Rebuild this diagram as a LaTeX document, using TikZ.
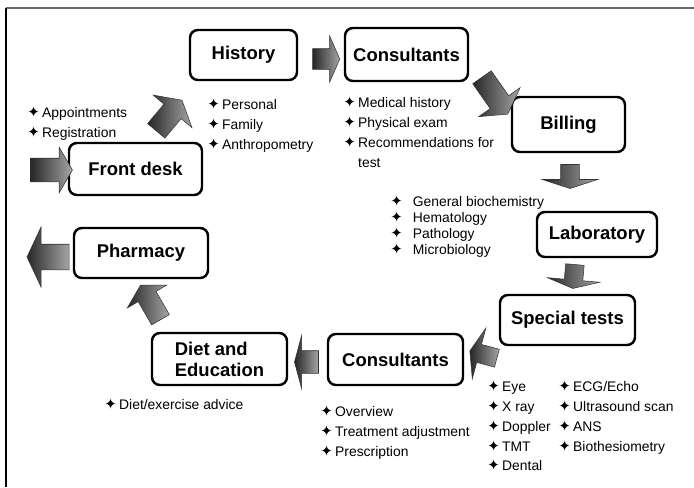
\documentclass[tikz,border=0pt]{standalone}
\usepackage{fontspec}
\setmainfont{Liberation Sans}
\newfontfamily\bulletfont{DejaVu Sans}
\usetikzlibrary{shapes.arrows}
\newcommand{\itm}{{\bulletfont\fontsize{8.5}{8.5}\selectfont ✦}\,}
\begin{document}
\begin{tikzpicture}[scale=0.2]
    \tikzstyle{every node}+=[inner sep=0pt]
    \tikzstyle{stage}=[draw, line width=1.4pt, rounded corners=4.5pt, font=\fontsize{10.5}{12}\selectfont\bfseries]
    \tikzstyle{items}=[anchor=north west, align=left, font=\fontsize{7.9}{11.3}\selectfont]
    \tikzstyle{blockarr}=[single arrow, draw=black!80, line width=0.3pt, left color=black!85, right color=black!35, single arrow head indent=0pt, inner xsep=0pt]
    \useasboundingbox (0,0) rectangle (69.4,-48.7);
    \draw [black!60, line width=0.9pt] (0.6,-0.8) -- (69.4,-0.8);
    \draw [black, line width=1.1pt] (0.6,-0.8) -- (0.6,-48.7);
    \node [stage, minimum width=2.14cm, minimum height=1.0cm] (hist) at (24.35,-5.5) {History};
    \node [stage, minimum width=2.46cm, minimum height=1.06cm] (consA) at (40.65,-5.45) {Consultants};
    \node [stage, minimum width=2.26cm, minimum height=1.1cm] (bill) at (56.85,-12.45) {Billing};
    \node [stage, minimum width=2.4cm, minimum height=0.9cm] (lab) at (59.7,-23.45) {Laboratory};
    \node [stage, minimum width=2.7cm, minimum height=1.0cm] (spec) at (56.75,-32) {Special tests};
    \node [stage, minimum width=2.7cm, minimum height=1.02cm] (consB) at (39.55,-35.95) {Consultants};
    \node [stage, minimum width=2.7cm, minimum height=1.04cm, align=left] (diet) at (21.95,-35.9) {Diet and\\Education};
    \node [stage, minimum width=2.68cm, minimum height=1.0cm] (pharm) at (14.1,-25.3) {Pharmacy};
    \node [stage, minimum width=2.66cm, minimum height=1.04cm] (front) at (13.55,-16.9) {Front desk};
    \node [items] (frontlist) at (2.7,-10.6) {\itm Appointments\\\itm Registration};
    \node [items] (histlist) at (20.7,-9.8) {\itm Personal\\\itm Family\\\itm Anthropometry};
    \node [items] (consAlist) at (34.3,-9.6) {\itm Medical history\\\itm Physical exam\\\itm Recommendations for\\\phantom{\itm}test};
    \node [items, font=\fontsize{7.9}{9.2}\selectfont] (lablist) at (39.0,-19.5) {\itm\ \ General biochemistry\\\itm\ \ Hematology\\\itm\ \ Pathology\\\itm\ \ Microbiology};
    \node [items] (speclistA) at (48.7,-38.0) {\itm Eye\\\itm X ray\\\itm Doppler\\\itm TMT\\\itm Dental};
    \node [items] (speclistB) at (55.8,-38.0) {\itm ECG/Echo\\\itm Ultrasound scan\\\itm ANS\\\itm Biothesiometry};
    \node [items] (consBlist) at (32.0,-40.5) {\itm Overview\\\itm Treatment adjustment\\\itm Prescription};
    \node [items] (dietlist) at (10.4,-39.8) {\itm Diet/exercise advice};
    \node [blockarr, inner ysep=0.23cm, minimum height=0.84cm, single arrow head extend=0.22cm, single arrow tip angle=120] (inarr) at (4.8,-17.0) {};
    \node [blockarr, rotate=50, inner ysep=0.22cm, minimum height=0.8cm, single arrow head extend=0.28cm, single arrow tip angle=120] (arrA) at (16.7,-11.8) {};
    \node [blockarr, inner ysep=0.2cm, minimum height=0.54cm, single arrow head extend=0.26cm, single arrow tip angle=133] (arrB) at (32.4,-5.9) {};
    \node [blockarr, rotate=-55, inner ysep=0.22cm, minimum height=0.9cm, single arrow head extend=0.28cm, single arrow tip angle=120] (arrC) at (49.3,-9.3) {};
    \node [blockarr, rotate=-90, inner ysep=0.18cm, minimum height=0.48cm, single arrow head extend=0.37cm, single arrow tip angle=144] (arrD) at (57.0,-17.5) {};
    \node [blockarr, rotate=-95, inner ysep=0.18cm, minimum height=0.48cm, single arrow head extend=0.34cm, single arrow tip angle=144] (arrE) at (57.4,-27.5) {};
    \node [blockarr, rotate=165, inner ysep=0.18cm, minimum height=0.56cm, single arrow head extend=0.34cm, single arrow tip angle=140] (arrF) at (48.5,-35.5) {};
    \node [blockarr, rotate=180, inner ysep=0.22cm, minimum height=0.48cm, single arrow head extend=0.3cm, single arrow tip angle=150] (arrG) at (30.8,-36.2) {};
    \node [blockarr, rotate=120, inner ysep=0.2cm, minimum height=0.8cm, single arrow head extend=0.25cm, single arrow tip angle=120] (arrH) at (15.2,-30.5) {};
    \node [blockarr, rotate=180, inner ysep=0.25cm, minimum height=0.84cm, single arrow head extend=0.35cm, single arrow tip angle=130] (outarr) at (5.1,-25.7) {};
\end{tikzpicture}
\end{document}
